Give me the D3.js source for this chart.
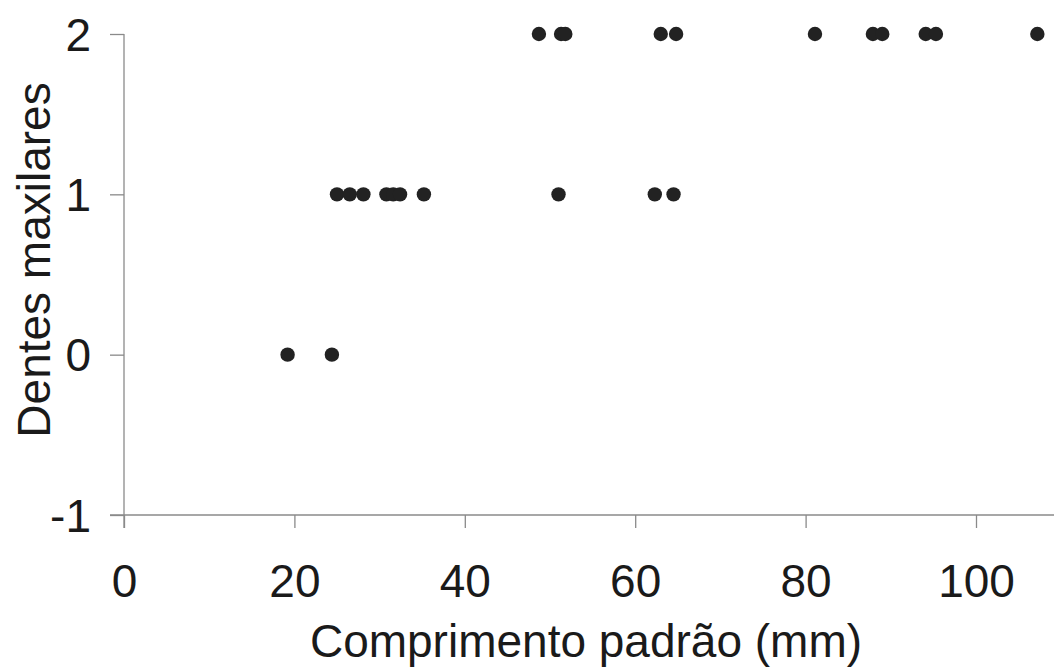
<!DOCTYPE html>
<html><head><meta charset="utf-8">
<script src="https://cdn.jsdelivr.net/npm/d3@7"></script>
<style>
html,body{margin:0;padding:0;background:#fff;}
text{font-family:"Liberation Sans",Arial,sans-serif;fill:#1a1a1a;}
</style></head>
<body>
<svg id="chart" width="1054" height="667"></svg>
<script>
// Data
const xValues = [19.2, 24.4,
  25.0, 26.5, 28.1, 30.8, 31.6, 32.4, 35.2, 51.0, 62.3, 64.5,
  48.7, 51.3, 51.8, 63.0, 64.8, 81.1, 87.9, 89.0, 94.1, 95.3, 107.2];
const yValues = [0, 0,
  1, 1, 1, 1, 1, 1, 1, 1, 1, 1,
  2, 2, 2, 2, 2, 2, 2, 2, 2, 2, 2];
const xTicks = [0, 20, 40, 60, 80, 100];
const yTicks = [-1, 0, 1, 2];
const xTitle = "Comprimento padrão (mm)";
const yTitle = "Dentes maxilares";

const svg = d3.select("#chart");
const x = d3.scaleLinear().domain([0, 100]).range([124, 976]);
const y = d3.scaleLinear().domain([-1, 2]).range([515, 34]);
const axisColor = "#8a8a8a";
const fs = 46;
const fmt = d => String(d);

// X axis
const gx = svg.append("g").attr("transform", `translate(0,${y(-1)})`)
  .call(d3.axisBottom(x).tickValues(xTicks).tickSize(13).tickPadding(0).tickFormat(fmt));
gx.select(".domain").remove();
gx.selectAll(".tick line").attr("stroke", axisColor).attr("stroke-width", 1.3);
gx.selectAll(".tick text").attr("font-size", fs).attr("y", 82).attr("dy", 0).attr("fill", "#1a1a1a");
svg.append("line").attr("x1", 110).attr("x2", 1054).attr("y1", y(-1)).attr("y2", y(-1))
  .attr("stroke", axisColor).attr("stroke-width", 1.3);

// Y axis
const gy = svg.append("g").attr("transform", `translate(${x(0)},0)`)
  .call(d3.axisLeft(y).tickValues(yTicks).tickSize(14).tickPadding(19).tickFormat(fmt));
gy.select(".domain").remove();
gy.selectAll(".tick line").attr("stroke", axisColor).attr("stroke-width", 1.3);
gy.selectAll(".tick text").attr("font-size", fs).attr("dy", "0.35em").attr("fill", "#1a1a1a");
svg.append("line").attr("x1", x(0)).attr("x2", x(0)).attr("y1", y(2)).attr("y2", y(-1) + 13)
  .attr("stroke", axisColor).attr("stroke-width", 1.3);

// Titles
svg.append("text").attr("x", 586).attr("y", 657).attr("text-anchor", "middle")
  .attr("font-size", fs).text(xTitle);
svg.append("text").attr("transform", "translate(50,260) rotate(-90)").attr("text-anchor", "middle")
  .attr("font-size", fs).text(yTitle);

// Points
svg.append("g").selectAll("circle").data(xValues.map((v, i) => [v, yValues[i]]))
  .join("circle")
  .attr("cx", d => x(d[0])).attr("cy", d => y(d[1])).attr("r", 7.2)
  .attr("fill", "#222");
</script>
</body></html>
